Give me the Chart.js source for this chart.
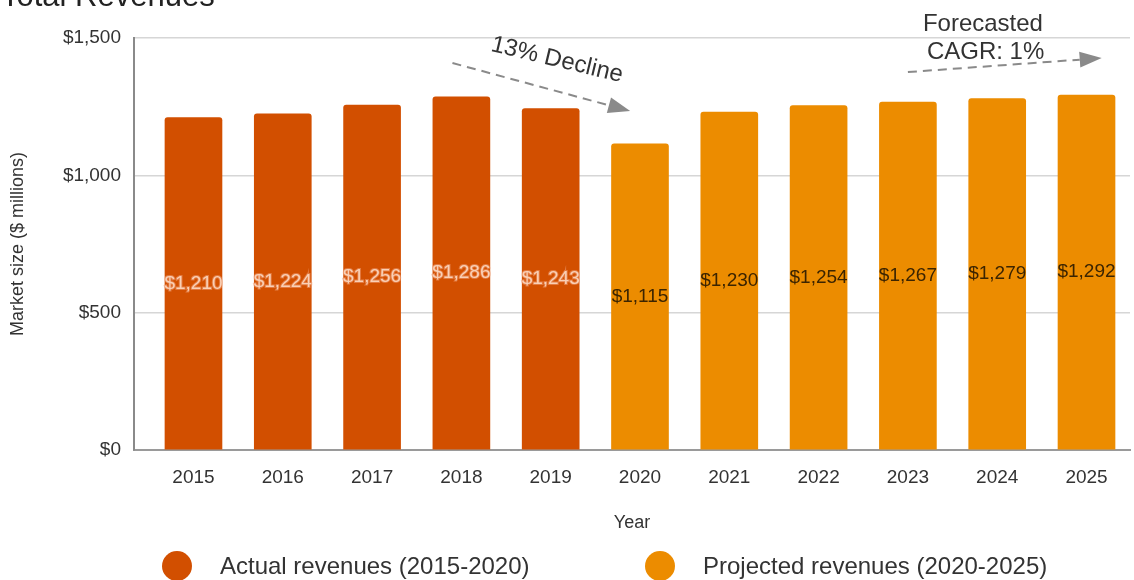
<!DOCTYPE html>
<html>
<head>
<meta charset="utf-8">
<title>Total Revenues</title>
<script src="https://cdn.jsdelivr.net/npm/chart.js@4.4.1/dist/chart.umd.min.js"></script>
<style>
  html, body { margin: 0; padding: 0; background: #fff; }
  canvas { display: block; }
</style>
</head>
<body>
<canvas id="revenueChart" width="1134" height="580"></canvas>
<script>
// revenue in $ millions per year
var years = [2015, 2016, 2017, 2018, 2019, 2020, 2021, 2022, 2023, 2024, 2025];
var actualYears = [2015, 2016, 2017, 2018, 2019];
var actualRevenue = [1210, 1224, 1256, 1286, 1243];
var projectedYears = [2020, 2021, 2022, 2023, 2024, 2025];
var projectedRevenue = [1115, 1230, 1254, 1267, 1279, 1292];
var yTicks = [0, 500, 1000, 1500];

var ACTUAL_COLOR = '#d24f00';
var PROJECTED_COLOR = '#ec8c00';
var FONT = "'Liberation Sans', Arial, sans-serif";

function toPoints(xs, ys) {
    return xs.map(function (x, i) { return { x: x, y: ys[i] }; });
}

function money(v) {
    return '$' + v.toLocaleString('en-US');
}

function dashedArrow(ctx, x1, y1, x2, y2) {
    var ang = Math.atan2(y2 - y1, x2 - x1);
    var head = 22;
    ctx.save();
    ctx.strokeStyle = '#8a8a8a';
    ctx.fillStyle = '#8a8a8a';
    ctx.lineWidth = 2;
    ctx.setLineDash([9, 6]);
    ctx.beginPath();
    ctx.moveTo(x1, y1);
    ctx.lineTo(x2 - head * Math.cos(ang), y2 - head * Math.sin(ang));
    ctx.stroke();
    ctx.setLineDash([]);
    ctx.translate(x2, y2);
    ctx.rotate(ang);
    ctx.beginPath();
    ctx.moveTo(0, 0);
    ctx.lineTo(-head, -8);
    ctx.lineTo(-head, 8);
    ctx.closePath();
    ctx.fill();
    ctx.restore();
}

// value labels, notes, heading and legend
var extras = {
    id: 'extras',
    afterDatasetsDraw: function (chart) {
        var ctx = chart.ctx;
        ctx.save();
        ctx.font = '19px ' + FONT;
        ctx.textAlign = 'center';
        ctx.textBaseline = 'middle';
        chart.data.datasets.forEach(function (ds, di) {
            chart.getDatasetMeta(di).data.forEach(function (bar, i) {
                var txt = money(ds.data[i].y);
                var cy = (bar.y + bar.base) / 2;
                if (di === 0) {
                    ctx.lineWidth = 2;
                    ctx.strokeStyle = 'rgba(240,160,120,0.55)';
                    ctx.strokeText(txt, bar.x, cy);
                    ctx.fillStyle = '#f9d0b6';
                } else {
                    ctx.fillStyle = '#3b2400';
                }
                ctx.fillText(txt, bar.x, cy);
            });
        });
        ctx.restore();
    },
    afterDraw: function (chart) {
        var ctx = chart.ctx;
        var xs = chart.scales.x, ys = chart.scales.y;
        function px(v) { return xs.getPixelForValue(v); }
        function py(v) { return ys.getPixelForValue(v); }

        ctx.save();
        // heading, mostly above the canvas edge
        ctx.fillStyle = '#222';
        ctx.font = '31px ' + FONT;
        ctx.textAlign = 'left';
        ctx.textBaseline = 'alphabetic';
        ctx.fillText('Total Revenues', 1, 6);

        // decline note
        dashedArrow(ctx, px(2017.9), py(1409), px(2019.89), py(1234));
        ctx.save();
        ctx.translate(px(2019.07), py(1420));
        ctx.rotate(13.5 * Math.PI / 180);
        ctx.font = '24px ' + FONT;
        ctx.fillStyle = '#333';
        ctx.textAlign = 'center';
        ctx.textBaseline = 'middle';
        ctx.fillText('13% Decline', 0, 0);
        ctx.restore();

        // forecast note
        dashedArrow(ctx, px(2023.0), py(1376), px(2025.17), py(1427));
        ctx.font = '24px ' + FONT;
        ctx.fillStyle = '#333';
        ctx.textAlign = 'center';
        ctx.textBaseline = 'middle';
        ctx.fillText('Forecasted', px(2023.84), py(1551));
        ctx.fillText('CAGR: 1%', px(2023.87), py(1449));

        // legend
        var items = [{ cx: 177, tx: 220 }, { cx: 660, tx: 703 }];
        ctx.font = '24px ' + FONT;
        ctx.textAlign = 'left';
        chart.data.datasets.forEach(function (ds, i) {
            ctx.fillStyle = ds.backgroundColor;
            ctx.beginPath();
            ctx.arc(items[i].cx, 566, 15, 0, Math.PI * 2);
            ctx.fill();
            ctx.fillStyle = '#333';
            ctx.fillText(ds.label, items[i].tx, 567);
        });
        ctx.restore();
    }
};

var ctx = document.getElementById('revenueChart').getContext('2d');
var revenueChart = new Chart(ctx, {
    type: 'bar',
    data: {
        datasets: [{
            label: 'Actual revenues (2015-2020)',
            data: toPoints(actualYears, actualRevenue),
            backgroundColor: ACTUAL_COLOR
        }, {
            label: 'Projected revenues (2020-2025)',
            data: toPoints(projectedYears, projectedRevenue),
            backgroundColor: PROJECTED_COLOR
        }]
    },
    options: {
        responsive: false,
        animation: false,
        devicePixelRatio: 1,
        layout: { padding: { left: 0, top: 38, right: 4, bottom: 0 } },
        datasets: {
            bar: { barThickness: 57, grouped: false, borderRadius: 3, borderSkipped: 'bottom' }
        },
        plugins: {
            legend: { display: false },
            tooltip: { enabled: false }
        },
        scales: {
            x: {
                type: 'linear',
                offset: false,
                min: 2014.334,
                max: 2025.487,
                afterBuildTicks: function (scale) {
                    scale.ticks = years.map(function (v) { return { value: v }; });
                },
                afterFit: function (scale) { scale.height = 130; },
                grid: { display: false },
                border: { color: '#9a9a9a', width: 2 },
                ticks: {
                    autoSkip: false,
                    maxRotation: 0,
                    padding: 8,
                    color: '#333',
                    font: { family: FONT, size: 19 },
                    callback: function (v) { return String(v); }
                },
                title: {
                    display: true,
                    text: 'Year',
                    color: '#333',
                    font: { family: FONT, size: 18 },
                    padding: { top: 0, bottom: 46 }
                }
            },
            y: {
                min: 0,
                max: 1500,
                afterBuildTicks: function (scale) {
                    scale.ticks = yTicks.map(function (v) { return { value: v }; });
                },
                afterFit: function (scale) { scale.width = 134; },
                grid: { color: '#d6d6d6', lineWidth: 1.5, drawTicks: false },
                border: { color: '#8a8a8a', width: 2 },
                ticks: {
                    padding: 13,
                    color: '#333',
                    font: { family: FONT, size: 19 },
                    callback: function (v) { return money(v); }
                },
                title: {
                    display: true,
                    text: 'Market size ($ millions)',
                    color: '#333',
                    font: { family: FONT, size: 18 },
                    padding: { top: 7, bottom: 0 }
                }
            }
        }
    },
    plugins: [extras]
});
</script>
</body>
</html>
